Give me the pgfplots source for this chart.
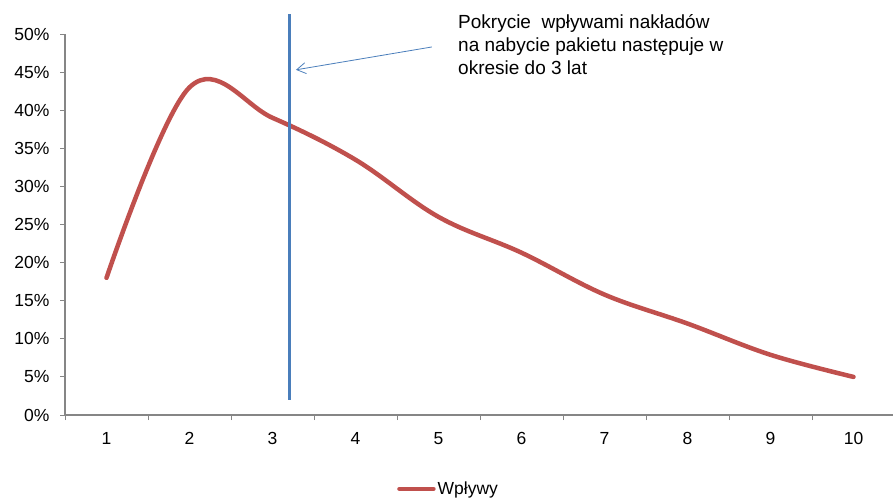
\documentclass[border=0pt]{standalone}
\usepackage{fontspec}
\setmainfont{Liberation Sans}
\usepackage{pgfplots}
\pgfplotsset{compat=1.18}
\usetikzlibrary{arrows.meta}
\definecolor{wred}{HTML}{C0504D}
\definecolor{wblue}{HTML}{4A7EBB}
\definecolor{axgray}{HTML}{868686}

\begin{document}
\begin{tikzpicture}
\path[use as bounding box] (0pt,0pt) rectangle (893pt,-499pt);
\begin{axis}[
  at={(65pt,-415pt)}, anchor=south west,
  scale only axis, width=830pt, height=381pt,
  xmin=0.5, xmax=10.5, ymin=0, ymax=50,
  axis x line*=bottom, axis y line*=left,
  axis line style={axgray, line width=1.5pt},
  xtick={0.5,1.5,...,10.5}, x tick label as interval,
  xticklabels={1,2,3,4,5,6,7,8,9,10},
  ytick={0,5,...,50},
  yticklabel={\pgfmathprintnumber{\tick}\%},
  tick align=outside, major tick length=5pt,
  tick style={axgray, line width=1pt},
  every tick label/.append style={font=\fontsize{17.5}{21}\selectfont, text=black},
  yticklabel style={xshift=-7pt},
  xticklabel style={yshift=-9pt},
  /pgf/number format/assume math mode=true,
  clip=false,
  legend style={draw=none, at={(0.4,-0.194)}, anchor=west, inner sep=0pt,
    font=\fontsize{17.5}{21}\selectfont},
  legend image code/.code={\draw[#1, line width=4.5pt] (0pt,0pt) -- (34pt,0pt);},
]
% cash inflows per year
\addplot[wred, line width=4.5pt, line cap=round, smooth, tension=0.6]
  coordinates {(1,18) (2,43) (3,39) (4,33.5) (5,26) (6,21.3) (7,15.8) (8,12) (9,7.9) (10,5)};
\addlegendentry{Wpływy}
% payback marker
\addplot[wblue, line width=3pt, forget plot] coordinates {(3.2,2) (3.2,52.6)};
\draw[wblue, line width=0.8pt, -{Straight Barb[length=9pt,width=11pt]}]
  (axis cs:4.92,48.3) -- (axis cs:3.283,45.3);
\node[anchor=north west, align=left, inner sep=0pt,
  font=\fontsize{19}{23}\selectfont] at (axis cs:5.235,52.6)
  {Pokrycie\ \ wpływami nakładów\\na nabycie pakietu następuje w\\okresie do 3 lat};
\end{axis}
\end{tikzpicture}
\end{document}
